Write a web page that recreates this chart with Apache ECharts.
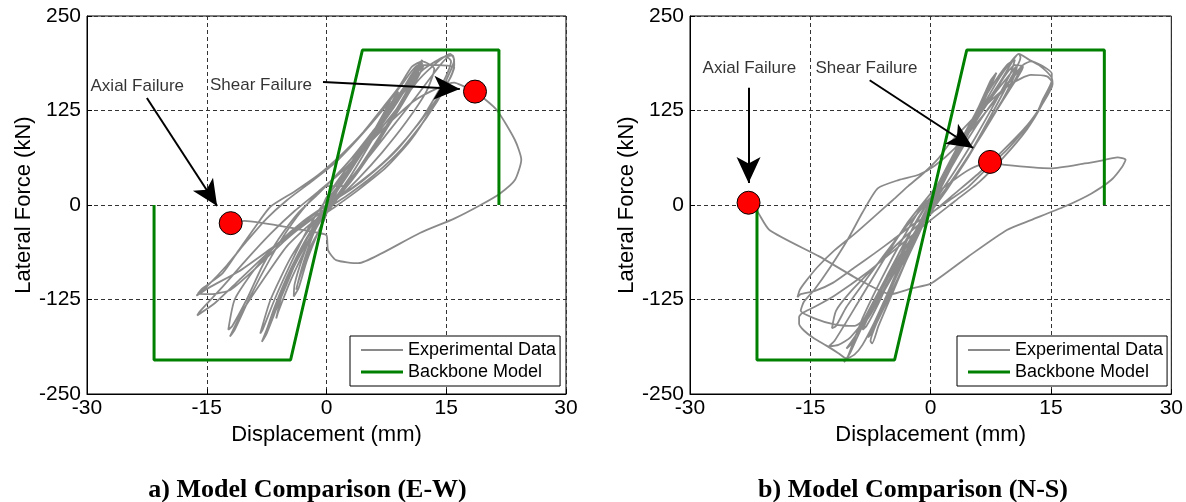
<!DOCTYPE html>
<html><head><meta charset="utf-8">
<script src="https://cdn.jsdelivr.net/npm/echarts@6/dist/echarts.min.js"></script>
<style>html,body{margin:0;padding:0;background:#fff}#c{width:1186px;height:502px}</style>
</head><body><div id="c"></div>
<script>
const xTicks=[-30,-15,0,15,30];
const yTicks=[-250,-125,0,125,250];
const panelTitles=['a) Model Comparison (E-W)','b) Model Comparison (N-S)'];
const seriesNames=['Experimental Data','Backbone Model'];
const xName='Displacement (mm)';
const yName='Lateral Force (kN)';

const expEW=[
[0,0],[1.5,25],[3,50],[4,68],[3.5,60],[2,32],[0.5,5],[-1,-20],[-2,-42],[-2.5,-55],[-2,-45],[-1,-22],[0,-2],
[1.5,22],[3.5,55],[5.5,90],[7,118],[8,138],[7.5,128],[5.5,88],[3,45],[0.5,5],[-1.5,-30],[-3,-70],[-4,-105],[-4.1,-121],[-3.5,-110],[-2.5,-75],[-1,-35],[0.5,0],
[2,32],[4.5,72],[7,115],[8.5,142],[9,150],[8,128],[5.5,82],[3,38],[0.5,0],[-1.5,-35],[-3,-80],[-3.8,-112],[-3.5,-100],[-2,-55],[0,-10],
[0,5],[3,55],[6,100],[9,145],[11,175],[11.8,185],[11,168],[8.5,122],[6,80],[3.5,40],[1,8],[-1.5,-28],[-4,-75],[-5.5,-115],[-6.3,-150],[-6,-140],[-4.5,-100],[-2.5,-55],[-0.5,-12],
[2,30],[5,78],[8,125],[10.5,170],[12,192],[11.5,178],[9.5,138],[7,92],[4,45],[1.5,10],[-1,-25],[-3.5,-70],[-6,-125],[-7.5,-165],[-8.1,-181],[-7.5,-170],[-6,-130],[-4,-80],[-2,-35],[0,0],
[2,35],[5,82],[8,128],[10.5,165],[12.2,185],[11.5,170],[9,125],[6.5,85],[4,48],[1.5,15],[-1.5,-22],[-4.5,-70],[-7,-125],[-8.3,-170],[-8,-165],[-6.5,-125],[-4.5,-78],[-2.5,-35],[-0.5,0],
[2.5,38],[5.5,85],[8.5,130],[11,172],[12,188],[11,165],[8.5,118],[6,75],[3,30],[0.5,0],[-2,-35],[-4.5,-85],[-6.5,-135],[-7.8,-175],[-7.2,-160],[-5,-105],[-3,-55],[-1,-15],
[0,10],[3,50],[6,90],[9,130],[11.5,165],[14,190],[15.5,200],[16,192],[15,165],[13,125],[10.5,85],[7.5,50],[4,20],[1,-3],[-2,-25],[-5,-55],[-8,-100],[-10.5,-140],[-12.1,-174],[-11.5,-165],[-9.5,-120],[-7,-70],[-5,-35],[-2.5,0],[0,25],
[2,25],[5,60],[8,100],[11,140],[13.5,175],[15.2,195],[15.6,190],[14.5,160],[12,115],[9,75],[6,45],[3,20],[0,0],[-3,-22],[-6,-50],[-9,-85],[-11.5,-125],[-12.3,-165],[-11.8,-160],[-10,-125],[-8,-80],[-6,-45],[-3.5,-10],[-1,15],
[3,60],[6,100],[9,140],[12,178],[14.5,195],[15.8,198],[16,185],[15,158],[12.5,115],[9.5,75],[6,40],[2.5,12],[-1,-12],[-5,-45],[-9,-85],[-12,-112],[-14.5,-118],[-16.1,-117],[-15.5,-110],[-13,-90],[-11,-60],[-9,-30],[-7,-2],[-4,18],[-1,40],[2,68],[4.5,95],[7,128],[9,155],[10.7,183],[12,190],
[13.5,180],[12.5,150],[10,110],[7,70],[4,35],[1,5],[-3,-28],[-7,-58],[-11,-88],[-14.5,-108],[-16.3,-120],[-15,-108],[-12.5,-80],[-10,-48],[-7.5,-18],[-5,6],[-2,30],[1,55],[4,88],[7,125],[9.5,160],[11.5,185],
[14,185],[16,182],[15.5,168],[13,128],[10,88],[7,55],[3.5,25],[0,0],[-3,-25],[-7,-60],[-11,-100],[-14,-130],[-16.2,-146],[-15.8,-140],[-13,-108],[-10,-72],[-7,-38],[-4,-8],[-1,18],[2,45],[5,78],[8,110],[11,138],[14,155],[16,162],[17,158],[18.6,150],
[21.3,126],[23.6,86],[24.4,60],[23.6,33],[21.7,15],[19.3,0],[16,-18],[11.7,-37],[6.9,-64],[4,-77],[1.2,-73],[0.2,-60],[0,-40],[-1,-37],[-3,-33],[-10.3,-21],[-12,-24]
];

const expNS=[
[0,0],[1.5,30],[3,60],[4,80],[3.5,70],[2,38],[0,0],[-1.5,-35],[-3,-70],[-3.5,-85],[-3,-72],[-1.5,-35],[0,-2],
[2,42],[4,85],[6,125],[7.5,160],[8,172],[7.5,158],[5.5,112],[3,60],[0.5,10],[-2,-45],[-4.5,-100],[-6.5,-150],[-7.5,-180],[-7.3,-183],[-6.5,-160],[-4.5,-110],[-2.5,-60],[-0.5,-10],
[2,45],[4,88],[6,130],[7.5,165],[8.2,175],[7.6,160],[5.5,115],[3,62],[0.5,12],[-2,-40],[-4.5,-95],[-6.5,-145],[-7.8,-175],[-7.4,-170],[-6,-140],[-4,-95],[-2,-50],[0,-5],
[2,38],[4.5,90],[7,140],[9,175],[11,200],[11.2,195],[10,168],[7.5,118],[5,70],[2.5,28],[0,-10],[-3,-60],[-6,-115],[-8.5,-160],[-10,-195],[-10.8,-208],[-10.3,-200],[-8.5,-150],[-6,-95],[-3.5,-45],[-1,0],
[0,10],[2.5,60],[5,110],[7.5,155],[9.5,185],[10.5,192],[10,175],[8,135],[5.5,88],[3,45],[0.5,5],[-2.5,-45],[-5,-95],[-7.5,-145],[-9.5,-175],[-10.5,-190],[-10,-185],[-8,-145],[-5.5,-95],[-3,-45],[-0.5,0],
[2,45],[5,100],[8,150],[10.5,185],[11.5,183],[10,155],[7,105],[4.5,60],[2,20],[-1,-25],[-4,-80],[-7,-135],[-10,-175],[-11.5,-185],[-12.7,-187],[-12,-180],[-9,-128],[-6,-75],[-3,-25],[0,15],
[2,40],[4.5,85],[7,125],[9.5,160],[11.5,185],[12.5,190],[13.5,185],[15,170],[15.2,160],[14,135],[12,105],[9,72],[6,42],[3,15],[0,-12],[-3.5,-45],[-7,-82],[-10,-115],[-11.8,-140],[-12.3,-163],[-11.8,-160],[-10.5,-135],[-8,-98],[-5.5,-62],[-3,-28],[0,10],
[3,70],[6,120],[8.5,160],[10.5,195],[11,200],[12.3,192],[14.1,183],[15.1,174],[15.1,165],[14,140],[13.2,121],[11.5,97],[9.5,73],[7,48],[4.7,24],[2.3,6],[0,-11],[-2.5,-28],[-4.7,-46],[-7,-64],[-9.4,-82],[-12.2,-103],[-14.5,-114],[-16.2,-118],[-16.6,-122],
[-16.3,-112],[-15.5,-100],[-14.1,-82],[-12,-60],[-9.4,-37.5],[-7,-15],[-4.7,6.6],[-2.8,25],[-0.9,42],[1,62],[2.4,82],[4.7,108],[7.6,139],[10,160],[12.5,172],[14.5,170],[15.1,163],
[14,135],[12,100],[9,62],[6,30],[3,5],[0,-20],[-4,-55],[-8,-90],[-12,-120],[-14.5,-135],[-16,-143],[-16.4,-148],[-16.4,-157],[-15.8,-166],[-14.6,-176],[-13,-186],[-11.5,-196],[-10.5,-203],[-9.5,-198],[-8.5,-185],
[-7,-155],[-5.5,-120],[-4,-85],[-2.5,-48],[-1,-15],[0.5,15],[2,45],[3.5,75],[5,100],[6.5,125],[8,148],[9.5,168],[10.8,185],
[10.5,172],[9,140],[7,105],[5,70],[3,38],[1,8],[-1.5,-30],[-4,-70],[-6,-110],[-7.8,-145],[-9.5,-160],[-12,-158],[-14.5,-150],[-16.2,-140],[-15.8,-128],[-14.5,-112],[-12.5,-82],[-10.3,-45],[-8.5,-10],[-6.6,22],[-4,33],[-1.5,40],[0.5,52],[3,75],[5.5,105],[8,138],[10,165],[11.3,182],
[10.5,165],[8.5,130],[6.5,95],[4.5,62],[2.5,30],[0.5,2],[-1.5,-30],[-3.5,-62],[-5.5,-98],[-7,-130],[-8.5,-165],[-8,-160],[-6.5,-130],[-5,-95],[-3.5,-60],[-2,-25],
[0,8],[2.5,30],[5,48],[7.4,57],
[9.3,53],[15,48.5],[19.2,55],[21.6,59.5],[23.3,63],[24.3,60],[23.9,51],[22.5,33],[20,15],[16.7,-2],[12.5,-20],[9.5,-33],[4.7,-68],[0,-104],[-2.3,-110],[-5,-118],[-8.9,-99],[-13.9,-68],[-20.1,-33],[-21.7,-7],[-22.7,3]
];

const backboneEW=[[-21.6,0],[-21.6,-205],[-4.5,-205],[4.5,205],[21.6,205],[21.6,0]];
const backboneNS=[[-21.65,0],[-21.65,-205],[-4.5,-205],[4.5,205],[21.65,205],[21.65,0]];

const failEW=[[-12,-24],[18.6,150]];
const failNS=[[-22.7,3],[7.4,57]];

const noteNames=['Axial Failure','Shear Failure'];
const notePosEW=[[-23.7,157],[-8.2,158.7]];
const notePosNS=[[-22.6,181],[-8.0,181]];
const arrowsEW=[[[-22.5,141.5],[-13.7,-1.3]],[[-0.44,162.7],[16.7,153.4]]];
const arrowsNS=[[[-22.7,155],[-22.7,29]],[[-7.6,165],[5.3,75.4]]];

const FONT='Liberation Sans, Arial, sans-serif';
const GRAY='#8a8a8a', GREEN='#008000';
const panels=[
 {left:87,width:479,exp:expEW,bb:backboneEW,fail:failEW,notes:notePosEW,arrows:arrowsEW,legendLeft:350},
 {left:690,width:484,exp:expNS,bb:backboneNS,fail:failNS,notes:notePosNS,arrows:arrowsNS,legendLeft:957}
];

const grid=[],xAxis=[],yAxis=[],series=[],legend=[],title=[];
panels.forEach((p,i)=>{
  grid.push({left:p.left,top:16,width:p.width,height:378,show:true,borderColor:'#000',borderWidth:1,backgroundColor:'#fff'});
  xAxis.push({type:'value',gridIndex:i,min:xTicks[0],max:xTicks[xTicks.length-1],interval:xTicks[1]-xTicks[0],
    name:xName,nameLocation:'middle',nameGap:30,nameTextStyle:{fontSize:22,color:'#000',fontFamily:FONT},
    axisLine:{show:true,onZero:false,lineStyle:{color:'#000',width:1}},axisTick:{show:true,inside:true,length:5,lineStyle:{color:'#000'}},
    axisLabel:{fontSize:21,color:'#000',fontFamily:FONT,margin:4},
    splitLine:{show:true,lineStyle:{color:'#333',width:1,type:[4,3]}}});
  yAxis.push({type:'value',gridIndex:i,min:yTicks[0],max:yTicks[yTicks.length-1],interval:yTicks[1]-yTicks[0],
    name:yName,nameLocation:'middle',nameGap:52,nameTextStyle:{fontSize:22,color:'#000',fontFamily:FONT},
    axisLine:{show:true,onZero:false,lineStyle:{color:'#000',width:1}},axisTick:{show:true,inside:true,length:5,lineStyle:{color:'#000'}},
    axisLabel:{fontSize:21,color:'#000',fontFamily:FONT,margin:6},
    splitLine:{show:true,lineStyle:{color:'#333',width:1,type:[4,3]}}});
  series.push({name:seriesNames[0],type:'line',xAxisIndex:i,yAxisIndex:i,data:p.exp,showSymbol:false,symbol:'none',smooth:0.2,
    lineStyle:{color:GRAY,width:1.8},itemStyle:{color:GRAY},z:2});
  series.push({name:seriesNames[1],type:'line',xAxisIndex:i,yAxisIndex:i,data:p.bb,showSymbol:false,symbol:'none',
    lineStyle:{color:GREEN,width:3},itemStyle:{color:GREEN},z:3});
  series.push({name:'failure'+i,type:'scatter',xAxisIndex:i,yAxisIndex:i,data:p.fail,symbolSize:23,
    itemStyle:{color:'#ff0000',borderColor:'#000',borderWidth:1,opacity:1},z:6});
  series.push({name:'notes'+i,type:'scatter',xAxisIndex:i,yAxisIndex:i,silent:true,symbolSize:1,
    itemStyle:{color:'rgba(0,0,0,0)'},
    data:p.notes.map((c,k)=>({name:noteNames[k],value:c})),
    label:{show:true,position:'inside',formatter:'{b}',color:'#000',fontSize:17,fontFamily:FONT},
    markLine:{silent:true,symbol:['none','arrow'],symbolSize:[18,26],animation:false,
      lineStyle:{color:'#000',width:2,type:'solid'},label:{show:false},
      data:p.arrows.map(a=>[{coord:a[0]},{coord:a[1]}])},z:5});
  legend.push({data:[{name:seriesNames[0],icon:'path://M0,0H42V2H0Z'},{name:seriesNames[1],icon:'path://M0,0H42V3H0Z'}],
    orient:'vertical',left:p.legendLeft,top:336,itemWidth:42,itemHeight:14,itemGap:4,itemTextGap:6,
    padding:[5,4,5,11],borderColor:'#000',borderWidth:1,backgroundColor:'#fff',
    textStyle:{fontSize:18,color:'#000',fontFamily:FONT},selectedMode:false});
  title.push({text:panelTitles[i],left:p.left+p.width/2-24,top:472,textAlign:'center',
    textStyle:{fontSize:26,fontWeight:'bold',color:'#000',fontFamily:'Liberation Serif, Times New Roman, serif'}});
});

const chart=echarts.init(document.getElementById('c'),null,{renderer:'canvas'});
chart.setOption({animation:false,backgroundColor:'#fff',grid,xAxis,yAxis,series,legend,title});
</script></body></html>
